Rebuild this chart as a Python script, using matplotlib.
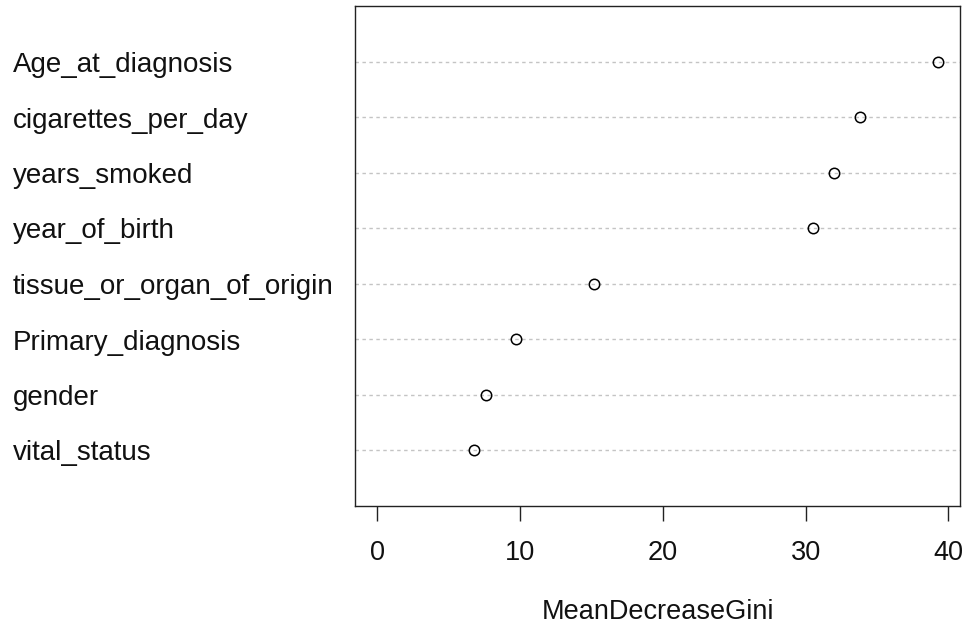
import matplotlib
matplotlib.use("Agg")
import matplotlib.pyplot as plt
from matplotlib.transforms import blended_transform_factory, ScaledTranslation

plt.rcParams['font.family'] = ['Liberation Sans', 'DejaVu Sans']

# Data (bottom to top as drawn in the R dotchart)
variables = ["vital_status", "gender", "Primary_diagnosis", "tissue_or_organ_of_origin",
             "year_of_birth", "years_smoked", "cigarettes_per_day", "Age_at_diagnosis"]
mean_decrease_gini = [6.8, 7.6, 9.7, 15.2, 30.5, 32.0, 33.8, 39.25]
x_ticks = [0, 10, 20, 30, 40]
x_label = "MeanDecreaseGini"

W, H, DPI = 967, 624, 100
fig = plt.figure(figsize=(W / DPI, H / DPI), dpi=DPI)
ax = fig.add_axes([355 / W, 1 - 505.5 / H, (960 - 355) / W, (505.5 - 6) / H])

positions = list(range(1, len(variables) + 1))

for p in positions:
    ax.axhline(p, color="#c4c4c4", lw=1.0, linestyle=(0, (2.5, 2.5)), zorder=1)

ax.plot(mean_decrease_gini, positions, linestyle="none", marker="o", ms=7.5,
        mfc="none", mec="black", mew=1.1, zorder=3)

xmax = max(mean_decrease_gini)
ax.set_xlim(-0.04 * xmax, 1.04 * xmax)
ax.set_ylim(0, len(variables) + 1)

ax.set_xticks(x_ticks)
ax.set_xticklabels([str(t) for t in x_ticks], fontsize=19.5, color="#111111")
ax.tick_params(axis="x", length=10.5, width=1.0, pad=14, color="#222222")
ax.set_yticks([])

for s in ax.spines.values():
    s.set_linewidth(1.0)
    s.set_color("#222222")

ax.set_xlabel(x_label, fontsize=19.5, labelpad=24, color="#111111")

trans = blended_transform_factory(fig.transFigure, ax.transData) + \
    ScaledTranslation(0, -10.5 / DPI, fig.dpi_scale_trans)
for name, p in zip(variables, positions):
    ax.text(13 / W, p, name, transform=trans, ha="left", va="baseline",
            fontsize=20, color="#111111", clip_on=False)

fig.savefig("out.png", dpi=DPI)
